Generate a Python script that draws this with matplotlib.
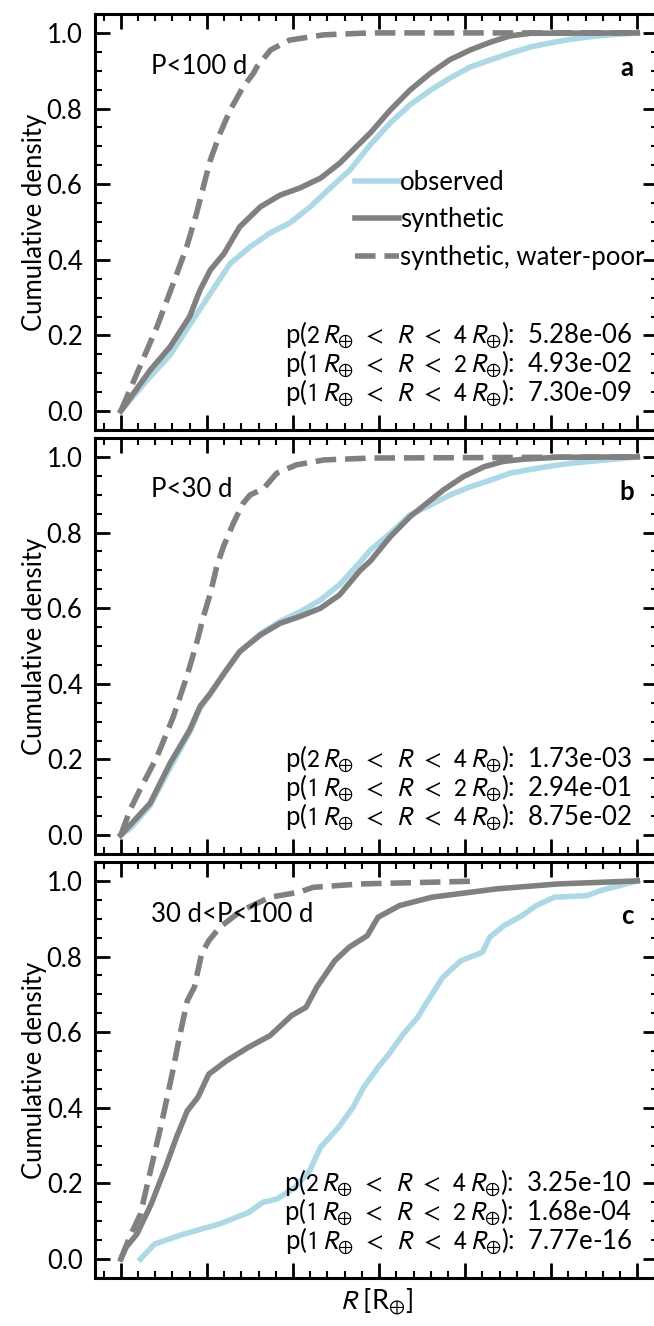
import numpy as np
import matplotlib
matplotlib.use("Agg")
import matplotlib.pyplot as plt

plt.rcParams['font.family'] = ['Lato', 'DejaVu Sans']
plt.rcParams['mathtext.fontset'] = 'stixsans'

# --- panel a: P<100 d ---
r_obs_a = [1.0, 1.17, 1.286, 1.40, 1.52, 1.635, 1.75, 1.867, 1.98, 2.10, 2.216, 2.33, 2.45,
           2.565, 2.68, 2.80, 2.91, 3.03, 3.15, 3.26, 3.38, 3.50, 3.61, 3.73, 3.84, 4.0]
f_obs_a = [0.0, 0.091, 0.148, 0.228, 0.311, 0.39, 0.434, 0.471, 0.497, 0.54, 0.59, 0.637, 0.705,
           0.762, 0.81, 0.849, 0.88, 0.91, 0.929, 0.946, 0.963, 0.974, 0.983, 0.99, 0.995, 1.0]
r_syn_a = [1.0, 1.17, 1.286, 1.40, 1.46, 1.52, 1.60, 1.69, 1.81, 1.925, 2.04, 2.16, 2.27, 2.39, 2.45,
           2.565, 2.68, 2.80, 2.91, 3.03, 3.15, 3.26, 3.38, 4.0]
f_syn_a = [0.0, 0.108, 0.17, 0.25, 0.32, 0.373, 0.417, 0.487, 0.54, 0.571, 0.59, 0.616, 0.655, 0.709, 0.736,
           0.796, 0.849, 0.894, 0.929, 0.955, 0.976, 0.992, 0.999, 1.0]
r_dry_a = [1.0, 1.11, 1.21, 1.305, 1.383, 1.44, 1.48, 1.52, 1.577, 1.635, 1.71, 1.77, 1.79, 1.87,
           1.98, 2.18, 2.45, 4.0]
f_dry_a = [0.0, 0.117, 0.223, 0.338, 0.435, 0.523, 0.594, 0.664, 0.735, 0.796, 0.857, 0.893, 0.91, 0.955,
           0.981, 0.995, 1.0, 1.0]

# --- panel b: P<30 d ---
r_obs_b = [1.0, 1.06, 1.17, 1.286, 1.40, 1.46, 1.52, 1.60, 1.69, 1.81, 1.925, 2.04, 2.16, 2.27, 2.39,
           2.45, 2.565, 2.68, 2.80, 2.91, 3.03, 3.15, 3.26, 3.38, 3.50, 3.61, 3.77, 4.0]
f_obs_b = [0.0, 0.02, 0.078, 0.178, 0.272, 0.335, 0.372, 0.428, 0.485, 0.532, 0.565, 0.59, 0.622, 0.662,
           0.722, 0.754, 0.798, 0.847, 0.873, 0.899, 0.921, 0.939, 0.957, 0.967, 0.976, 0.983, 0.99, 1.0]
r_syn_b = [1.0, 1.17, 1.286, 1.40, 1.46, 1.52, 1.60, 1.69, 1.81, 1.925, 2.04, 2.16, 2.27, 2.39, 2.45,
           2.565, 2.68, 2.80, 2.875, 2.99, 3.11, 3.22, 3.34, 3.53, 4.0]
f_syn_b = [0.0, 0.084, 0.19, 0.278, 0.34, 0.375, 0.428, 0.485, 0.529, 0.56, 0.578, 0.60, 0.635, 0.70, 0.725,
           0.789, 0.842, 0.886, 0.913, 0.948, 0.974, 0.988, 0.994, 0.999, 1.0]
r_dry_b = [1.0, 1.053, 1.11, 1.21, 1.305, 1.383, 1.44, 1.48, 1.52, 1.557, 1.596, 1.654, 1.71, 1.75,
           1.79, 1.83, 1.906, 2.02, 2.18, 2.45, 4.0]
f_dry_b = [0.0, 0.066, 0.119, 0.207, 0.313, 0.419, 0.507, 0.578, 0.639, 0.71, 0.763, 0.825, 0.877, 0.899,
           0.908, 0.917, 0.957, 0.979, 0.992, 0.997, 1.0]

# --- panel c: 30 d<P<100 d ---
r_obs_c = [1.114, 1.197, 1.365, 1.574, 1.741, 1.825, 1.908, 2.013, 2.097, 2.159, 2.264, 2.348, 2.41,
           2.494, 2.557, 2.64, 2.724, 2.808, 2.87, 2.975, 3.10, 3.142, 3.226, 3.33, 3.414, 3.519,
           3.707, 3.79, 4.0]
f_obs_c = [0.0, 0.04, 0.066, 0.093, 0.123, 0.15, 0.159, 0.19, 0.234, 0.295, 0.348, 0.401, 0.454,
           0.507, 0.542, 0.595, 0.639, 0.701, 0.745, 0.789, 0.811, 0.851, 0.882, 0.908, 0.935, 0.957,
           0.961, 0.975, 1.0]
r_syn_c = [1.0, 1.03, 1.093, 1.177, 1.26, 1.323, 1.386, 1.448, 1.511, 1.616, 1.741, 1.867, 1.992,
           2.076, 2.138, 2.243, 2.327, 2.431, 2.494, 2.62, 2.808, 3.184, 3.54, 4.0]
f_syn_c = [0.0, 0.031, 0.066, 0.146, 0.243, 0.322, 0.392, 0.428, 0.489, 0.525, 0.56, 0.591, 0.644,
           0.666, 0.719, 0.789, 0.825, 0.855, 0.904, 0.935, 0.957, 0.979, 0.992, 1.0]
r_dry_c = [1.0, 1.05, 1.114, 1.177, 1.24, 1.302, 1.344, 1.386, 1.427, 1.469, 1.511, 1.574, 1.699,
           1.867, 2.034, 2.117, 2.39, 3.03]
f_dry_c = [0.0, 0.057, 0.119, 0.243, 0.366, 0.498, 0.595, 0.683, 0.719, 0.807, 0.842, 0.877, 0.921,
           0.957, 0.97, 0.983, 0.992, 0.999]

period_labels = ['P<100 d', 'P<30 d', '30 d<P<100 d']
panel_letters = ['a', 'b', 'c']
p_ranges = [r'p($2\,R_{\oplus}\;\,<\;\,R\;\,<\;\,4\,R_{\oplus}$):',
            r'p($1\,R_{\oplus}\;\,<\;\,R\;\,<\;\,2\,R_{\oplus}$):',
            r'p($1\,R_{\oplus}\;\,<\;\,R\;\,<\;\,4\,R_{\oplus}$):']
p_values = [['5.28e-06', '4.93e-02', '7.30e-09'],
            ['1.73e-03', '2.94e-01', '8.75e-02'],
            ['3.25e-10', '1.68e-04', '7.77e-16']]

obs = [(r_obs_a, f_obs_a), (r_obs_b, f_obs_b), (r_obs_c, f_obs_c)]
syn = [(r_syn_a, f_syn_a), (r_syn_b, f_syn_b), (r_syn_c, f_syn_c)]
dry = [(r_dry_a, f_dry_a), (r_dry_b, f_dry_b), (r_dry_c, f_dry_c)]

FS = 18.5

fig = plt.figure(figsize=(6.54, 13.26), dpi=100)
W, H = 654., 1326.
tops = [14, 438, 862]
ax_h = 416
axes = []
for i in range(3):
    ax = fig.add_axes([95 / W, (H - tops[i] - ax_h) / H, 563 / W, ax_h / H])
    axes.append(ax)

for i, ax in enumerate(axes):
    ax.plot(obs[i][0], obs[i][1], color='lightblue', lw=4, label='observed')
    ax.plot(syn[i][0], syn[i][1], color='gray', lw=4, label='synthetic')
    ax.plot(dry[i][0], dry[i][1], color='gray', lw=4, ls='--', label='synthetic, water-poor')

    ax.set_xlim(0.85, 4.12)
    ax.set_ylim(-0.05, 1.05)
    ax.xaxis.set_major_locator(plt.MultipleLocator(0.5))
    ax.xaxis.set_minor_locator(plt.MultipleLocator(0.1))
    ax.yaxis.set_major_locator(plt.MultipleLocator(0.2))
    ax.yaxis.set_minor_locator(plt.MultipleLocator(0.05))
    ax.tick_params(which='both', direction='in', top=True, right=True, labelbottom=False)
    ax.tick_params(which='major', length=10.5, width=2, labelsize=FS, pad=9)
    ax.tick_params(which='minor', length=5, width=1.5)
    for s in ax.spines.values():
        s.set_linewidth(2.2)
    ax.set_ylabel('Cumulative density', fontsize=FS, labelpad=0)

    ax.text(0.1, 0.875, period_labels[i], transform=ax.transAxes, fontsize=FS, va='center', ha='left')
    ax.text(0.957, 0.87, panel_letters[i], transform=ax.transAxes, fontsize=FS, fontweight='bold',
            va='center', ha='right')
    for k, ypos in enumerate([0.209, 0.138, 0.068]):
        ax.text(0.954, ypos, p_ranges[k] + '  ' + p_values[i][k], transform=ax.transAxes,
                fontsize=FS, ha='right', va='baseline')

axes[0].legend(loc='center left', bbox_to_anchor=((355 - 95) / 563, 0.505), frameon=False,
               fontsize=FS, handlelength=1.7, handletextpad=0.05, labelspacing=0.5,
               borderpad=0, borderaxespad=0)
axes[2].set_xlabel(r'$R$ [R$_{\oplus}$]', fontsize=FS + 1, labelpad=6)

fig.savefig('out.png', dpi=100)
